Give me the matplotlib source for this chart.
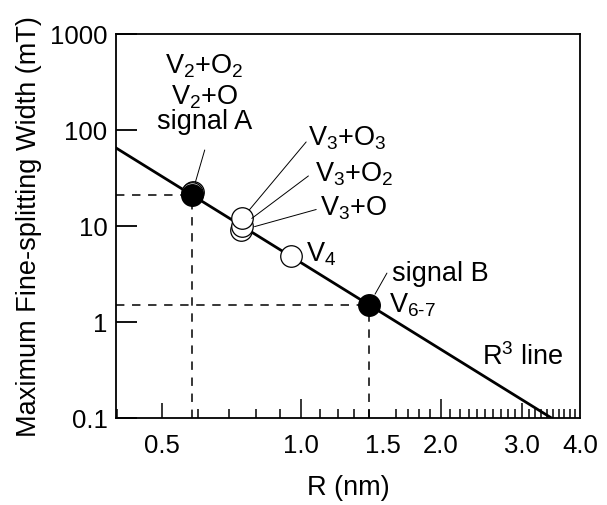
import numpy as np
import matplotlib
matplotlib.use('Agg')
import matplotlib.pyplot as plt
from matplotlib.ticker import FixedLocator, NullFormatter

plt.rcParams['font.family'] = ['Liberation Sans', 'DejaVu Sans']
plt.rcParams['mathtext.fontset'] = 'custom'
plt.rcParams['mathtext.rm'] = 'Liberation Sans'
plt.rcParams['mathtext.default'] = 'regular'

# datos
r_filled = [0.58, 1.40]          # signal A, signal B
w_filled = [21.0, 1.5]

r_open = [0.583, 0.58, 0.742, 0.744, 0.746, 0.95]
w_open = [22.3, 21.9, 9.0, 10.0, 12.0, 4.9]
open_names = ['V2+O2', 'V2+O', 'V3+O', 'V3+O2', 'V3+O3', 'V4']

# linea R^3 (extremos)
line_r = [0.398, 3.47]
line_w = [65.0, 0.1]

xlim = (0.398, 4.0)
ylim = (0.1, 1000)
x_labels = [0.5, 1.0, 1.5, 2.0, 3.0, 4.0]
x_long = [1.0, 2.0]
x_mid = [0.5, 3.0]
y_ticks = [0.1, 1, 10, 100, 1000]
y_labels = ['0.1', '1', '10', '100', '1000']

fs_tick = 18.5
fs = 19.5

fig = plt.figure(figsize=(6.07, 5.06), dpi=100)
ax = fig.add_axes([0.191, 0.172, 0.7645, 0.759])
ax.set_xscale('log')
ax.set_yscale('log')
ax.set_xlim(*xlim)
ax.set_ylim(*ylim)

# linea teorica
ax.plot(line_r, line_w, color='black', lw=2.0, zorder=2)

# lineas punteadas hacia los ejes
for r, w in zip(r_filled, w_filled):
    ax.plot([xlim[0], r], [w, w], color='black', lw=1.1, ls=(0, (5.5, 5)), zorder=1)
    ax.plot([r, r], [ylim[0], w], color='black', lw=1.1, ls=(0, (5.5, 5)), zorder=1)

# puntos abiertos y llenos
for r, w in zip(r_open, w_open):
    ax.plot(r, w, 'o', ms=15.5, mfc='white', mec='black', mew=0.9, zorder=3)
ax.plot(r_filled, w_filled, 'o', ms=15.5, mfc='black', mec='black', zorder=4)

# ejes
for s in ax.spines.values():
    s.set_linewidth(1.3)
ax.xaxis.set_major_locator(FixedLocator(x_labels))
ax.set_xticklabels([f'{v:.1f}' for v in x_labels])
ax.xaxis.set_minor_locator(FixedLocator(np.round(np.arange(0.4, 4.01, 0.1), 2)))
ax.xaxis.set_minor_formatter(NullFormatter())
ax.tick_params(axis='x', which='major', length=0, pad=11, labelsize=fs_tick)
ax.tick_params(axis='x', which='minor', direction='in', length=6.5, width=1.1)
ax.vlines(x_long, 0, 0.05, transform=ax.get_xaxis_transform(), color='black', lw=1.1)
ax.vlines(x_mid, 0, 0.039, transform=ax.get_xaxis_transform(), color='black', lw=1.1)

ax.yaxis.set_major_locator(FixedLocator(y_ticks))
ax.set_yticklabels(y_labels)
ax.yaxis.set_minor_locator(FixedLocator([]))
ax.tick_params(axis='y', which='major', direction='in', length=15, width=1.3, pad=6, labelsize=fs_tick)

ax.set_xlabel('R (nm)', fontsize=fs, labelpad=12)
ax.set_ylabel('Maximum Fine-splitting Width (mT)', fontsize=fs, labelpad=6)

# etiquetas
i_a = (r_filled[0], w_filled[0])
i_b = (r_filled[1], w_filled[1])
ax.annotate(r'V$_2$+O$_2$', xy=i_a, xytext=(9, 88), textcoords='offset points', ha='center', va='baseline', fontsize=fs)
ax.annotate(r'V$_2$+O', xy=i_a, xytext=(9, 66), textcoords='offset points', ha='center', va='baseline', fontsize=fs)
ax.annotate('signal A', xy=i_a, xytext=(9, 48), textcoords='offset points', ha='center', va='baseline', fontsize=fs)
ax.annotate('', xy=i_a, xytext=(9.4, 32.4), textcoords='offset points',
            arrowprops=dict(arrowstyle='-', lw=0.7, color='black', shrinkA=0, shrinkB=9.5))

p3 = (r_open[4], w_open[4])
p2 = (r_open[3], w_open[3])
p1 = (r_open[2], w_open[2])
ax.annotate(r'V$_3$+O$_3$', xy=p3, xytext=(47, 53), textcoords='offset points', ha='left', va='baseline', fontsize=fs)
ax.annotate(r'V$_3$+O$_2$', xy=p2, xytext=(53, 33), textcoords='offset points', ha='left', va='baseline', fontsize=fs)
ax.annotate(r'V$_3$+O', xy=p1, xytext=(57, 11.5), textcoords='offset points', ha='left', va='baseline', fontsize=fs)
ax.annotate('', xy=p3, xytext=(46, 55), textcoords='offset points',
            arrowprops=dict(arrowstyle='-', lw=0.7, color='black', shrinkA=0, shrinkB=8))
ax.annotate('', xy=p2, xytext=(48, 36), textcoords='offset points',
            arrowprops=dict(arrowstyle='-', lw=0.7, color='black', shrinkA=0, shrinkB=9))
ax.annotate('', xy=p1, xytext=(54, 15), textcoords='offset points',
            arrowprops=dict(arrowstyle='-', lw=0.7, color='black', shrinkA=0, shrinkB=10))

ax.annotate(r'V$_4$', xy=(r_open[5], w_open[5]), xytext=(11, -3.6), textcoords='offset points',
            ha='left', va='baseline', fontsize=fs)

ax.annotate('signal B', xy=i_b, xytext=(16.6, 18), textcoords='offset points', ha='left', va='baseline', fontsize=fs)
ax.annotate(r'V$_{\text{6-7}}$', xy=i_b, xytext=(14.4, -4.3), textcoords='offset points', ha='left', va='baseline', fontsize=fs)
ax.annotate('', xy=i_b, xytext=(13, 23), textcoords='offset points',
            arrowprops=dict(arrowstyle='-', lw=0.7, color='black', shrinkA=0, shrinkB=9))

ax.text(0.789, 0.141, r'R$^3$ line', transform=ax.transAxes, ha='left', va='baseline', fontsize=fs)

fig.savefig('out.png', dpi=100)
